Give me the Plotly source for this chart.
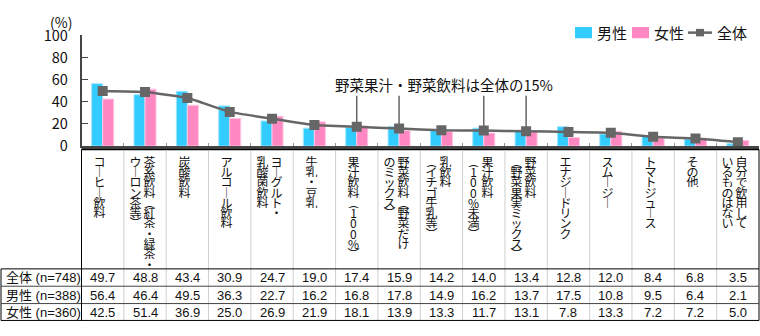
import plotly.graph_objects as go

# ---- data -------------------------------------------------------------
# category labels; "\n" separates the vertical text columns (right to left)
categories = [
    "コーヒー飲料",
    "茶系飲料（紅茶・緑茶・\nウーロン茶等）",
    "炭酸飲料",
    "アルコール飲料",
    "ヨーグルト・\n乳酸菌飲料",
    "牛乳・豆乳",
    "果汁飲料（100%）",
    "野菜飲料（野菜だけ\nのミックス）",
    "乳飲料\n（イチゴ牛乳等）",
    "果汁飲料\n（100%未満）",
    "野菜飲料\n（野菜果実ミックス）",
    "エナジードリンク",
    "スムージー",
    "トマトジュース",
    "その他",
    "自分で飲用して\nいるものはない",
]
total = [49.7, 48.8, 43.4, 30.9, 24.7, 19.0, 17.4, 15.9, 14.2, 14.0, 13.4, 12.8, 12.0, 8.4, 6.8, 3.5]
male = [56.4, 46.4, 49.5, 36.3, 22.7, 16.2, 16.8, 17.8, 14.9, 16.2, 13.7, 17.5, 10.8, 9.5, 6.4, 2.1]
female = [42.5, 51.4, 36.9, 25.0, 26.9, 21.9, 18.1, 13.9, 13.3, 11.7, 13.1, 7.8, 13.3, 7.2, 7.2, 5.0]
row_headers = ["全体 (n=748)", "男性 (n=388)", "女性 (n=360)"]
series_names = ["男性", "女性", "全体"]
callout_text = "野菜果汁・野菜飲料は全体の15%"
callout_idx = [6, 7, 9, 10]

# ---- styling ----------------------------------------------------------
W, H = 760, 336
C_MALE = "#33CCFF"
C_FEMALE = "#FF88C2"
C_TOTAL = "#666666"
JP = "Noto Sans CJK JP, Noto Sans, sans-serif"
TBL = "Liberation Sans, Arial, Noto Sans CJK JP, sans-serif"

PX_L, PX_R = 81.5, 759.0        # plot area, horizontal pixels
PY_T, PY_B = 25.0, 143.0        # plot area, vertical pixels
BOX_T, TBL_T, TBL_B = 146.5, 274.0, 329.0
ROW_LINES = [292.5, 311.0]
ROW_Y = [283.5, 302.0, 320.5]


def fx(px):
    return px / W


def fy(py):
    return 1 - py / H


n = len(categories)
xs = list(range(n))
cw = (PX_R - PX_L) / n


def cx(i):
    return PX_L + (i + 0.5) * cw


def note(x, y, text, size, family=JP, xanchor="center", **kw):
    return dict(xref="paper", yref="paper", x=x, y=y, xanchor=xanchor, yanchor="middle", text=text,
                showarrow=False, font=dict(family=family, size=size, color="#111"), **kw)


fig = go.Figure()
fig.add_trace(go.Bar(x=xs, y=male, name=series_names[0],
                     marker=dict(color=C_MALE, line=dict(color="#9FE6FF", width=1))))
fig.add_trace(go.Bar(x=xs, y=female, name=series_names[1],
                     marker=dict(color=C_FEMALE, line=dict(color="#FFC6E2", width=1))))
fig.add_trace(go.Scatter(x=xs, y=total, name=series_names[2], mode="lines+markers",
                         line=dict(color=C_TOTAL, width=2.5, shape="spline", smoothing=0.4),
                         marker=dict(symbol="square", size=10, color=C_TOTAL)))

shapes = []
annotations = []

# callout leader lines to the vegetable/fruit juice markers
callout_top = 45.5
for i in callout_idx:
    shapes.append(dict(type="line", xref="x", yref="y", x0=i, x1=i, y0=total[i], y1=callout_top,
                       line=dict(color=C_TOTAL, width=1.5), layer="below"))
annotations.append(dict(xref="x", yref="y", x=8.05, y=55.5, xanchor="center", yanchor="middle",
                        text=callout_text, showarrow=False, font=dict(family=JP, size=14.5, color="#111")))

# unit label
annotations.append(note(fx(61), fy(11), "(%)", 14))

# legend drawn by hand
leg_y = 22
shapes.append(dict(type="rect", xref="paper", yref="paper", x0=fx(575), x1=fx(592), y0=fy(16), y1=fy(28),
                   fillcolor=C_MALE, line=dict(width=0)))
annotations.append(note(fx(595), fy(leg_y), series_names[0], 15, xanchor="left"))
shapes.append(dict(type="rect", xref="paper", yref="paper", x0=fx(632), x1=fx(649), y0=fy(16), y1=fy(28),
                   fillcolor=C_FEMALE, line=dict(width=0)))
annotations.append(note(fx(652), fy(leg_y), series_names[1], 15, xanchor="left"))
shapes.append(dict(type="line", xref="paper", yref="paper", x0=fx(688), x1=fx(712), y0=fy(leg_y), y1=fy(leg_y),
                   line=dict(color=C_TOTAL, width=2.5)))
shapes.append(dict(type="rect", xref="paper", yref="paper", x0=fx(696), x1=fx(704), y0=fy(leg_y - 4),
                   y1=fy(leg_y + 4), fillcolor=C_TOTAL, line=dict(width=0)))
annotations.append(note(fx(715), fy(leg_y), series_names[2], 15, xanchor="left"))

# category label box
for x0, x1, y0, y1, col, w in [
    (PX_L, PX_R, BOX_T, BOX_T, "#000", 2),
    (PX_L, PX_L, BOX_T, TBL_T, "#000", 1),
    (PX_R, PX_R, BOX_T, TBL_T, "#000", 1),
]:
    shapes.append(dict(type="line", xref="paper", yref="paper", x0=fx(x0), x1=fx(x1), y0=fy(y0), y1=fy(y1),
                       line=dict(color=col, width=w)))
for i in range(1, n):
    bx = PX_L + i * cw
    shapes.append(dict(type="line", xref="paper", yref="paper", x0=fx(bx), x1=fx(bx), y0=fy(BOX_T + 1),
                       y1=fy(TBL_B), line=dict(color="#cfcfcf", width=1)))

# data table frame
shapes.append(dict(type="rect", xref="paper", yref="paper", x0=fx(1), x1=fx(PX_R), y0=fy(TBL_T), y1=fy(TBL_B),
                   line=dict(color="#000", width=1)))
for ry in ROW_LINES:
    shapes.append(dict(type="line", xref="paper", yref="paper", x0=fx(1), x1=fx(PX_R), y0=fy(ry), y1=fy(ry),
                       line=dict(color="#444", width=1)))
shapes.append(dict(type="line", xref="paper", yref="paper", x0=fx(PX_L), x1=fx(PX_L), y0=fy(TBL_T),
                   y1=fy(TBL_B), line=dict(color="#000", width=1)))

# vertical category labels, one glyph per annotation, each in a fixed 11px cell
vert_map = {"ー": "｜", "（": "︵", "）": "︶", "(": "︵", ")": "︶"}
CH_STEP = 11.0
CH_TOP = 159.0
COL_GAP = 14.0
COL_SHIFT = -3.0
for i, label in enumerate(categories):
    cols = label.split("\n")
    k = len(cols)
    for c, text in enumerate(cols):
        # first column sits on the right
        off = COL_SHIFT + ((k - 1) / 2 - c) * COL_GAP
        for j, ch in enumerate(text):
            annotations.append(note(fx(cx(i) + off), fy(CH_TOP + j * CH_STEP), vert_map.get(ch, ch), 12,
                                    height=11, width=13, borderpad=0, valign="middle"))

# table rows
for r, (hdr, vals) in enumerate(zip(row_headers, [total, male, female])):
    annotations.append(note(fx(4), fy(ROW_Y[r]), hdr, 13, family=TBL, xanchor="left"))
    for i, v in enumerate(vals):
        annotations.append(note(fx(cx(i)), fy(ROW_Y[r]), f"{v:.1f}", 13, family=TBL))

fig.update_layout(
    width=W, height=H, autosize=False,
    margin=dict(l=0, r=0, t=0, b=0),
    paper_bgcolor="white", plot_bgcolor="white",
    showlegend=False,
    barmode="group", bargap=0.48, bargroupgap=0,
    shapes=shapes, annotations=annotations,
    xaxis=dict(domain=[fx(PX_L), fx(PX_R)], range=[-0.5, n - 0.5], showgrid=False, zeroline=False,
               showline=True, linecolor="#444", linewidth=1.5,
               tickmode="array", tickvals=[i + 0.5 for i in range(n - 1)], ticks="inside", ticklen=3,
               tickcolor="#999", showticklabels=False),
    yaxis=dict(domain=[fy(PY_B), fy(PY_T)], range=[0, 100], dtick=20, showgrid=False, zeroline=False,
               showline=True, linecolor="#444", linewidth=1.5, ticks="inside", ticklen=7, tickcolor="#444",
               ticklabelstandoff=9, tickfont=dict(family=JP, size=14.5, color="#111")),
)

fig.write_html("out.html")
